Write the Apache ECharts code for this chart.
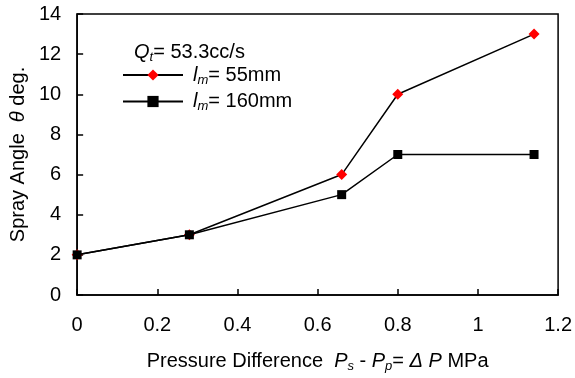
<!DOCTYPE html>
<html>
<head>
<meta charset="utf-8">
<script src="https://cdn.jsdelivr.net/npm/echarts@6/dist/echarts.min.js"></script>
<style>
  html, body { margin: 0; padding: 0; background: #fff; }
  #chart { width: 575px; height: 378px; }
</style>
</head>
<body>
<div id="chart"></div>
<script>
// pressure difference (MPa)
const pressure = [0, 0.28, 0.66, 0.8, 1.14];
// spray angle (deg) for each nozzle length
const angle55 = [2, 3, 6, 10, 13];
const angle160 = [2, 3, 5, 7, 7];

const font = 'Liberation Sans, Arial, sans-serif';
const fs = 20;

const pairs = (ys) => pressure.map((x, i) => [x, ys[i]]);

const subStyle = { fontFamily: font, fontSize: 13, fontStyle: 'italic', fontWeight: 'normal', verticalAlign: 'bottom', padding: [10, 0, 0, 0], color: '#000' };
const italic = { fontFamily: font, fontSize: fs, fontStyle: 'italic', fontWeight: 'normal', color: '#000' };
const plain = { fontFamily: font, fontSize: fs, fontWeight: 'normal', color: '#000' };
const legendL = Object.assign({}, italic, { padding: [0, 0, 0, 5] });

const chart = echarts.init(document.getElementById('chart'));
chart.setOption({
    animation: false,
    title: {
        text: '{i|Q}{s|t}{p|= 53.3cc/s}',
        left: 129,
        top: 36,
        textStyle: {
            fontWeight: 'normal',
            rich: { i: italic, s: subStyle, p: plain }
        }
    },
    legend: {
        orient: 'vertical',
        left: 117,
        top: 60,
        itemWidth: 60,
        itemHeight: 14,
        itemGap: 5,
        data: ['55', '160'],
        formatter: function (name) {
            return '{i|l}{s|m}{p|= ' + name + 'mm}';
        },
        textStyle: {
            rich: { i: legendL, s: subStyle, p: plain }
        }
    },
    grid: {
        left: 75,
        right: 15,
        top: 14,
        bottom: 83,
        show: true,
        borderColor: '#000',
        borderWidth: 1.5
    },
    xAxis: {
        type: 'value',
        min: 0,
        max: 1.2,
        interval: 0.2,
        name: 'Pressure Difference  {i|P}{s|s}{p| - }{i|P}{s|p}{p|= }{i|Δ P}{p| MPa}',
        nameLocation: 'middle',
        nameGap: 55,
        nameTextStyle: {
            fontFamily: font, fontSize: fs, color: '#000',
            rich: { i: italic, s: subStyle, p: plain }
        },
        axisLine: { lineStyle: { color: '#000', width: 1.5 } },
        axisTick: { inside: true, length: 6, lineStyle: { color: '#000', width: 1.5 } },
        axisLabel: { color: '#000', fontFamily: font, fontSize: fs, margin: 20 },
        splitLine: { show: false }
    },
    yAxis: {
        type: 'value',
        min: 0,
        max: 14,
        interval: 2,
        name: 'Spray Angle  {i|θ}{p| deg.}',
        nameLocation: 'middle',
        nameGap: 45,
        nameTextStyle: {
            fontFamily: font, fontSize: fs, color: '#000',
            rich: { i: italic, p: plain }
        },
        axisLine: { lineStyle: { color: '#000', width: 1.5 } },
        axisTick: { inside: true, length: 6, lineStyle: { color: '#000', width: 1.5 } },
        axisLabel: { color: '#000', fontFamily: font, fontSize: fs, margin: 16 },
        splitLine: { show: false }
    },
    series: [
        {
            name: '55',
            type: 'line',
            data: pairs(angle55),
            symbol: 'diamond',
            symbolSize: 11,
            itemStyle: { color: '#ff0000' },
            lineStyle: { color: '#000', width: 1.5 },
            z: 2
        },
        {
            name: '160',
            type: 'line',
            data: pairs(angle160),
            symbol: 'rect',
            symbolSize: 9,
            itemStyle: { color: '#000' },
            lineStyle: { color: '#000', width: 1.5 },
            z: 3
        }
    ]
});
</script>
</body>
</html>
